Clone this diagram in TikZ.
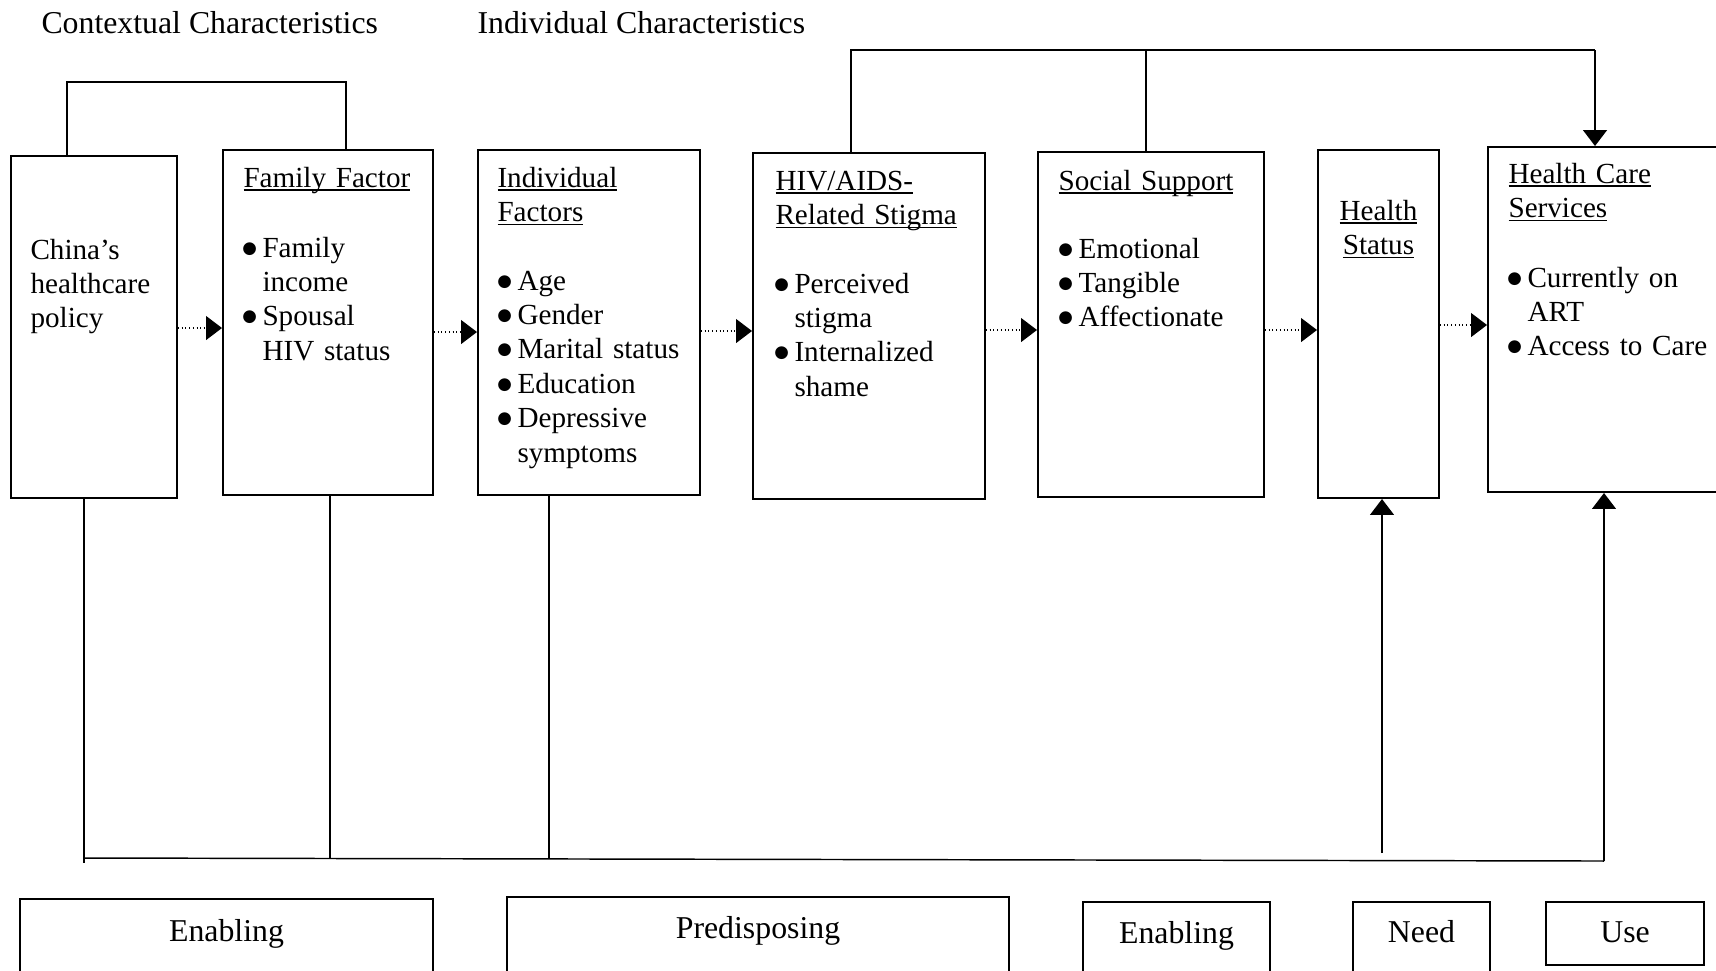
\documentclass[tikz,border=0pt]{standalone}
\usepackage{fontspec}
\setmainfont{Liberation Serif}
\newfontfamily\bulfont{DejaVu Sans}
\usetikzlibrary{arrows.meta,fit}
\newcommand\myul[1]{\leavevmode\setbox0\hbox{#1}\rlap{\vrule width\wd0 height -0.9pt depth 1.5pt}\box0}
\newcommand\bul{\makebox[0pt][c]{\raisebox{1.5pt}{\fontsize{6.3}{6.3}\bulfont ●}}\hspace{4.9pt}}
\newcommand\ind{\hspace*{4.9pt}}
\begin{document}
\begin{tikzpicture}[x=0.3774pt,y=-0.3774pt,
  box/.style={draw, line width=0.75pt, inner sep=0pt},
  lbox/.style={draw, line width=0.8pt, inner sep=0pt},
  txt/.style={anchor=base west, inner sep=0pt, text width=120pt, align=left, font=\fontsize{11}{13}\selectfont},
  ctxt/.style={anchor=base, inner sep=0pt, text width=60pt, align=center, font=\fontsize{11}{13}\selectfont},
  head/.style={anchor=base west, inner sep=0pt, font=\fontsize{12}{14}\selectfont},
  lab/.style={anchor=base, inner sep=0pt, font=\fontsize{12}{14}\selectfont},
  conn/.style={line width=0.55pt},
  arr/.style={line width=0.55pt, -{Triangle[length=6pt,width=9pt]}},
  darr/.style={line width=0.4pt, densely dotted, -{Triangle[length=6pt,width=9pt,fill=black]}}]
\useasboundingbox (0,0) rectangle (1716,970);

% headers
\node[head] (hctx) at (41,33) {Contextual Characteristics};
\node[head] (hind) at (477,33) {Individual Characteristics};

% main boxes
\node[box, fit={(11,156) (177,498)}] (china) {};
\node[box, fit={(223,150) (433,495)}] (family) {};
\node[box, fit={(478,150) (700,495)}] (indiv) {};
\node[box, fit={(753,153) (985,499)}] (hiv) {};
\node[box, fit={(1038,152) (1264,497)}] (social) {};
\node[box, fit={(1318,150) (1439,498)}] (health) {};
\node[box, fit={(1488,147) (1740,492)}] (hcs) {};

% box texts
\node[txt] (chinat) at (30,259) {China’s\\healthcare\\policy};
\node[txt] (famt) at (243,187) {\myul{Family Factor}};
\node[txt] (faml) at (249,257) {\bul Family\\\ind income\\\bul Spousal\\\ind HIV status};
\node[txt] (indt) at (497,187) {\myul{Individual}\\\myul{Factors}};
\node[txt] (indl) at (504,290) {\bul Age\\\bul Gender\\\bul Marital status\\\bul Education\\\bul Depressive\\\ind symptoms};
\node[txt] (hivt) at (775,190) {\myul{HIV/AIDS-}\\\myul{Related Stigma}};
\node[txt] (hivl) at (781,293) {\bul Perceived\\\ind stigma\\\bul Internalized\\\ind shame};
\node[txt] (soct) at (1058,190) {\myul{Social Support}};
\node[txt] (socl) at (1065,258) {\bul Emotional\\\bul Tangible\\\bul Affectionate};
\node[ctxt] (healtht) at (1378.5,220) {\myul{Health}\\\myul{Status}};
\node[txt] (hcst) at (1508,183) {\myul{Health Care}\\\myul{Services}};
\node[txt] (hcsl) at (1514,287) {\bul Currently on\\\ind ART\\\bul Access to Care};

% dotted arrows between boxes
\coordinate (a1) at (0,328);
\coordinate (a2) at (0,332);
\coordinate (a3) at (0,331);
\coordinate (a4) at (0,330);
\coordinate (a5) at (0,330);
\coordinate (a6) at (0,325);
\draw[darr] (china.east |- a1) -- (family.west |- a1);
\draw[darr] (family.east |- a2) -- (indiv.west |- a2);
\draw[darr] (indiv.east |- a3) -- (hiv.west |- a3);
\draw[darr] (hiv.east |- a4) -- (social.west |- a4);
\draw[darr] (social.east |- a5) -- (health.west |- a5);
\draw[darr] (health.east |- a6) -- (hcs.west |- a6);

% top connectors
\coordinate (c1) at (67,82);
\coordinate (c2) at (346,82);
\draw[conn] (china.north -| c1) -- (c1) -- (c2) -- (family.north -| c2);
\coordinate (c3) at (851,50);
\coordinate (c4) at (1146,50);
\coordinate (c5) at (1595,50);
\draw[conn] (hiv.north -| c3) -- (c3) -- (c5);
\draw[conn] (c4) -- (social.north -| c4);
\draw[arr] (c5) -- (hcs.north -| c5);

% bottom connectors
\coordinate (b1) at (84,858);
\coordinate (bl) at (84,863);
\coordinate (b2) at (330,858);
\coordinate (b3) at (549,859);
\coordinate (b4) at (1382,853);
\coordinate (b5) at (1604,861);
\draw[conn] (china.south -| b1) -- (bl);
\draw[conn] (b1) -- (b5);
\draw[conn] (family.south -| b2) -- (b2);
\draw[conn] (indiv.south -| b3) -- (b3);
\draw[arr] (b4) -- (health.south -| b4);
\draw[arr] (b5) -- (hcs.south -| b5);

% bottom category boxes
\node[lbox, fit={(20,899) (433,990)}] (enab1) {};
\node[lbox, fit={(507,897) (1009,990)}] (pred) {};
\node[lbox, fit={(1083,902) (1270,990)}] (enab2) {};
\node[lbox, fit={(1353,902) (1490,990)}] (need) {};
\node[lbox, fit={(1546,902) (1704,965)}] (use) {};
\node[lab] (enab1t) at (226.5,941) {Enabling};
\node[lab] (predt) at (758,938) {Predisposing};
\node[lab] (enab2t) at (1176.5,943) {Enabling};
\node[lab] (needt) at (1421.5,942) {Need};
\node[lab] (uset) at (1625,942) {Use};
\end{tikzpicture}
\end{document}
